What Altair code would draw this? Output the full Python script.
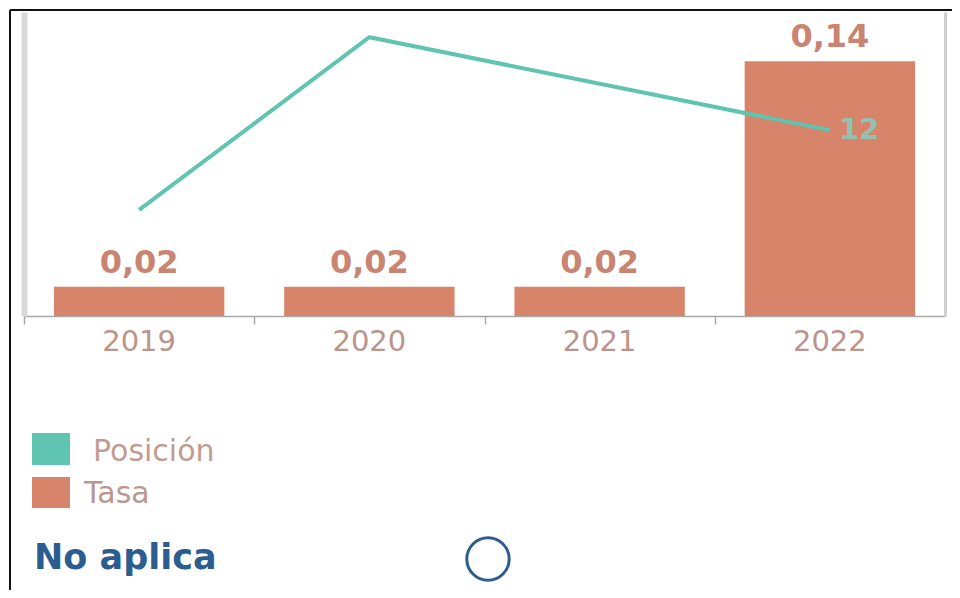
import altair as alt
import pandas as pd

# ---- data ----
years = ["2019", "2020", "2021", "2022"]
tasa = [0.016, 0.016, 0.016, 0.14]
pos_years = ["2019", "2020", "2022"]
posicion = [18, 5, 12]
series = ["Posición", "Tasa"]
series_colors = ["#5fc4b0", "#d8846b"]
nota = "No aplica"

FONT = "DejaVu Sans"

df_bar = pd.DataFrame({"anio": years, "tasa": tasa})
df_line = pd.DataFrame({"anio": pos_years, "posicion": posicion})

xenc = alt.X(
    "anio:N",
    scale=alt.Scale(domain=years, paddingInner=0.26, paddingOuter=0.13),
    axis=alt.Axis(
        title=None, labelAngle=0, bandPosition=-0.172,
        domainColor="#a9a9a9", domainWidth=1.5,
        tickColor="#a9a9a9", tickSize=8, tickWidth=1.5,
        labelFont=FONT, labelFontSize=29, labelColor="#bb958b",
        labelPadding=3, grid=False,
    ),
)

bars = alt.Chart(df_bar).mark_bar(color=series_colors[1]).encode(
    x=xenc,
    y=alt.Y(
        "tasa:Q",
        scale=alt.Scale(domain=[0, 0.167], nice=False, zero=True),
        axis=alt.Axis(title=None, labels=False, ticks=False, grid=False,
                      domainColor="#d9d9d9", domainWidth=6),
    ),
)
bar_labels = alt.Chart(df_bar).transform_calculate(
    lab="replace(format(datum.tasa, '.2f'), '.', ',')"
).mark_text(
    font=FONT, fontSize=32, fontWeight="bold", color="#c98472",
    baseline="bottom", dy=-7,
).encode(
    x=alt.X("anio:N", scale=alt.Scale(domain=years)),
    y=alt.Y("tasa:Q", scale=alt.Scale(domain=[0, 0.167], nice=False)),
    text="lab:N",
)
bar_layer = alt.layer(bars, bar_labels)

line = alt.Chart(df_line).mark_line(color=series_colors[0], strokeWidth=4).encode(
    x=alt.X("anio:N", scale=alt.Scale(domain=years)),
    y=alt.Y(
        "posicion:Q",
        scale=alt.Scale(domain=[3.1, 26], reverse=True, nice=False, zero=False),
        axis=alt.Axis(orient="right", title=None, labels=False, ticks=False,
                      grid=False, domainColor="#cfcfcf", domainWidth=3),
    ),
)
line_label = alt.Chart(df_line).transform_filter(
    "datum.anio == '2022'"
).mark_text(
    font=FONT, fontSize=29, fontWeight="bold", color="#93c2b0",
    align="left", baseline="middle", dx=9,
).encode(
    x=alt.X("anio:N", scale=alt.Scale(domain=years)),
    y=alt.Y("posicion:Q", scale=alt.Scale(domain=[3.1, 26], reverse=True, nice=False, zero=False)),
    text="posicion:Q",
)
line_layer = alt.layer(line, line_label)

# ---- legend and footer ----
one = pd.DataFrame({"k": [0]})
leg_pos_sq = alt.Chart(one).mark_rect(color=series_colors[0]).encode(
    x=alt.value(8), x2=alt.value(46), y=alt.value(421), y2=alt.value(453))
leg_tasa_sq = alt.Chart(one).mark_rect(color=series_colors[1]).encode(
    x=alt.value(8), x2=alt.value(46), y=alt.value(465), y2=alt.value(496))
leg_pos_txt = alt.Chart(pd.DataFrame({"s": [series[0]]})).mark_text(
    font=FONT, fontSize=30, color="#c29c92", align="left", baseline="middle"
).encode(x=alt.value(69), y=alt.value(440), text="s:N")
leg_tasa_txt = alt.Chart(pd.DataFrame({"s": [series[1]]})).mark_text(
    font=FONT, fontSize=30, color="#b99890", align="left", baseline="middle"
).encode(x=alt.value(60), y=alt.value(482), text="s:N")
nota_txt = alt.Chart(pd.DataFrame({"s": [nota]})).mark_text(
    font=FONT, fontSize=35, fontWeight="bold", color="#2b5d8f",
    align="left", baseline="alphabetic"
).encode(x=alt.value(10), y=alt.value(557), text="s:N")
circle = alt.Chart(one).mark_point(
    shape="circle", filled=False, size=1800, stroke="#2b5d8f", strokeWidth=3,
    opacity=1,
).encode(x=alt.value(464), y=alt.value(547))

# black frame lines (top and left)
frame_top = alt.Chart(one).mark_rule(color="#111111", strokeWidth=2).encode(
    x=alt.value(-14), x2=alt.value(940), y=alt.value(-2))
frame_left = alt.Chart(one).mark_rule(color="#111111", strokeWidth=2).encode(
    x=alt.value(-14), y=alt.value(-2), y2=alt.value(590))

chart = alt.layer(
    bar_layer, line_layer,
    leg_pos_sq, leg_tasa_sq, leg_pos_txt, leg_tasa_txt, nota_txt, circle,
    frame_top, frame_left,
).resolve_scale(y="independent").properties(
    width=921, height=304,
    autosize=alt.AutoSizeParams(type="none"),
    padding={"left": 16, "top": 4, "right": 7, "bottom": 274},
).configure_view(strokeWidth=0)

chart.save("out.html", embed_options={"renderer": "svg", "actions": False})
